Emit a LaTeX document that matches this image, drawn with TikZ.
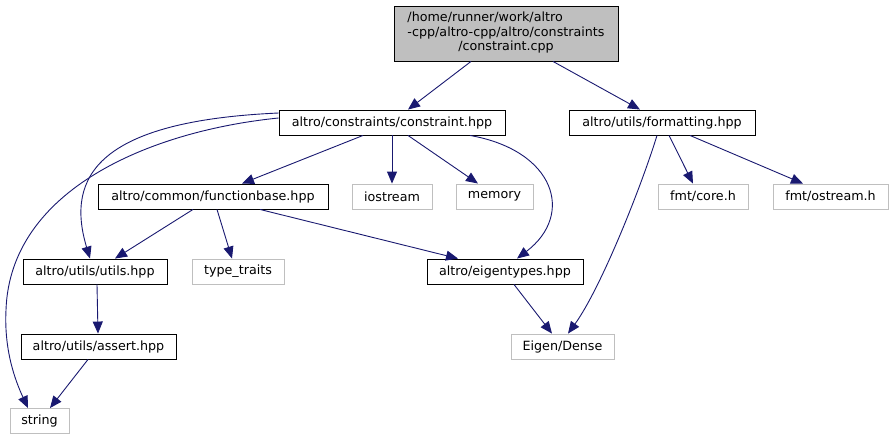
\documentclass[tikz,border=0pt]{standalone}
\usepackage{fontspec}
\setmainfont{DejaVu Sans}
\usetikzlibrary{arrows.meta}
\definecolor{edgeblue}{HTML}{191970}
\definecolor{lgray}{HTML}{BFBFBF}
\tikzset{
  box/.style={draw=black, line width=0.9pt, fill=white, inner sep=0pt, minimum height=25pt, font=\fontsize{12.7}{14.5}\selectfont},
  sysbox/.style={draw=lgray, line width=0.9pt, fill=white, inner sep=0pt, minimum height=25pt, font=\fontsize{12.7}{14.5}\selectfont},
  dep/.style={draw=edgeblue, line width=0.9pt, -{Triangle[length=12pt,width=10pt]}, fill=none},
}
\begin{document}
\begin{tikzpicture}[x=1pt,y=-1pt]
\useasboundingbox (0,0) rectangle (893,440);
% nodes
\node[box, fill=lgray, minimum width=224pt, minimum height=55pt] (cpp) at (506,33.5)
  {\begin{tabular}{@{}l@{}}/home/runner/work/altro\\-cpp/altro-cpp/altro/constraints\\\multicolumn{1}{@{}c@{}}{/constraint.cpp}\end{tabular}};
\node[box, minimum width=226pt] (ch) at (392,122.5) {altro/constraints/constraint.hpp};
\node[box, minimum width=186pt] (fmt) at (662,122.5) {altro/utils/formatting.hpp};
\node[box, minimum width=230pt] (fb) at (213,196.5) {altro/common/functionbase.hpp};
\node[sysbox, minimum width=80pt] (ios) at (392,196.5) {iostream};
\node[sysbox, minimum width=77pt] (mem) at (494.5,196.5) {memory};
\node[sysbox, minimum width=90pt] (core) at (703,196.5) {fmt/core.h};
\node[sysbox, minimum width=115pt] (ost) at (830.5,196.5) {fmt/ostream.h};
\node[box, minimum width=144pt] (uti) at (95,271.5) {altro/utils/utils.hpp};
\node[sysbox, minimum width=92pt] (tt) at (238,271.5) {type\_traits};
\node[box, minimum width=156pt] (eig) at (505,271.5) {altro/eigentypes.hpp};
\node[box, minimum width=155pt] (asrt) at (98.5,346.5) {altro/utils/assert.hpp};
\node[sysbox, minimum width=103pt] (dense) at (562.5,346.5) {Eigen/Dense};
\node[sysbox, minimum width=59pt] (str) at (39.5,421) {string};
% edges
\draw[dep] ([xshift=-35pt]cpp.south) -- ([xshift=16pt]ch.north);
\draw[dep] ([xshift=47pt]cpp.south) -- ([xshift=-22pt]fmt.north);
\draw[dep] ([xshift=-29pt]ch.south) -- ([xshift=29pt]fb.north);
\draw[dep] (ch.south) -- (ios.north);
\draw[dep] ([xshift=16pt]ch.south) -- ([xshift=-16.5pt]mem.north);
\draw[dep] ([xshift=78pt]ch.south) .. controls +(85,15) and +(58,-44) .. ([xshift=12pt]eig.north);
\draw[dep] ([yshift=9.5pt]ch.west) .. controls +(-179,8) and +(-25,-83) .. ([xshift=-5pt]uti.north);
\draw[dep] ([yshift=4.5pt]ch.west) .. controls +(-129,13) and +(4,-120) .. (6,310) .. controls +(-2,40) and +(-13,-28) .. ([xshift=-11.5pt]str.north);
\draw[dep] ([xshift=-20pt]fb.south) -- ([xshift=20pt]uti.north);
\draw[dep] ([xshift=4pt]fb.south) -- ([xshift=-6pt]tt.north);
\draw[dep] ([xshift=47pt]fb.south) -- ([xshift=-47pt]eig.north);
\draw[dep] ([xshift=7pt]fmt.south) -- ([xshift=-10pt]core.north);
\draw[dep] ([xshift=28pt]fmt.south) -- ([xshift=-27.5pt]ost.north);
\draw[dep] ([xshift=-5pt]fmt.south) .. controls +(-17,55) and +(32,-44) .. ([xshift=5.5pt]dense.north);
\draw[dep] ([xshift=9pt]eig.south) -- ([xshift=-10.5pt]dense.north);
\draw[dep] ([xshift=2pt]uti.south) -- ([xshift=-0.5pt]asrt.north);
\draw[dep] ([xshift=-10.5pt]asrt.south) -- ([xshift=10.5pt]str.north);
\end{tikzpicture}
\end{document}
